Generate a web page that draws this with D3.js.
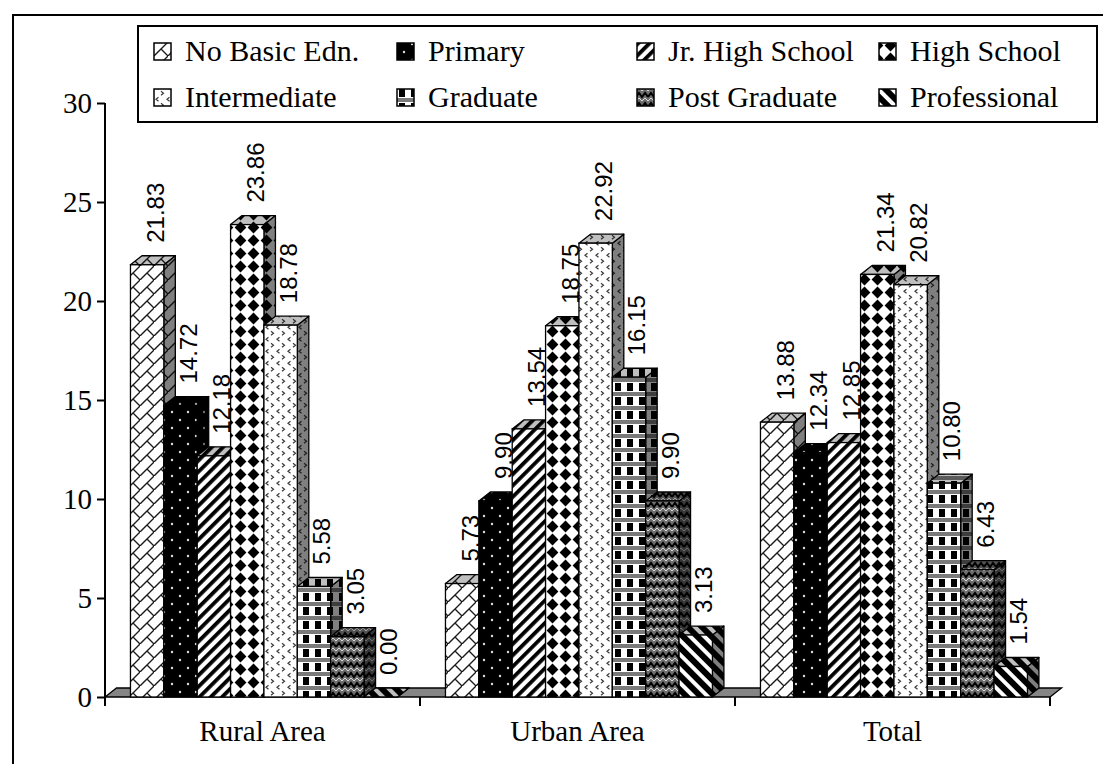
<!DOCTYPE html>
<html>
<head>
<meta charset="utf-8">
<script src="https://cdn.jsdelivr.net/npm/d3@7"></script>
<style>
  html, body { margin: 0; padding: 0; background: #fff; }
  svg { display: block; }
</style>
</head>
<body>
<svg id="chart" width="1103" height="764"></svg>
<script>
// Education level shares (%) by area
const categories = ["Rural Area", "Urban Area", "Total"];
const seriesNames = ["No Basic Edn.", "Primary", "Jr. High School", "High School",
                     "Intermediate", "Graduate", "Post Graduate", "Professional"];
const noBasicEdn   = [21.83,  5.73, 13.88];
const primary      = [14.72,  9.90, 12.34];
const jrHighSchool = [12.18, 13.54, 12.85];
const highSchool   = [23.86, 18.75, 21.34];
const intermediate = [18.78, 22.92, 20.82];
const graduate     = [ 5.58, 16.15, 10.80];
const postGraduate = [ 3.05,  9.90,  6.43];
const professional = [ 0.00,  3.13,  1.54];
const yTickValues  = [0, 5, 10, 15, 20, 25, 30];

const seriesValues = [noBasicEdn, primary, jrHighSchool, highSchool,
                      intermediate, graduate, postGraduate, professional];

const svg = d3.select("#chart");
const defs = svg.append("defs");

// ---- hatch patterns, one per series ----
const patternMakers = [
  // diagonal brick
  p => {
    p.attr("width", 14).attr("height", 14);
    p.append("rect").attr("width", 14).attr("height", 14).attr("fill", "#fff");
    p.append("path").attr("d", "M-1,15 L15,-1 M7,7 L15,15 M-1,-1 L0,0")
      .attr("stroke", "#1a1a1a").attr("stroke-width", 1.4).attr("fill", "none");
  },
  // black with white dots
  p => {
    p.attr("width", 16).attr("height", 16);
    p.append("rect").attr("width", 16).attr("height", 16).attr("fill", "#000");
    p.append("circle").attr("cx", 4).attr("cy", 4).attr("r", 1.2).attr("fill", "#ddd");
    p.append("circle").attr("cx", 12).attr("cy", 12).attr("r", 1.2).attr("fill", "#ddd");
  },
  // wide upward diagonal
  p => {
    p.attr("width", 8).attr("height", 8).attr("patternTransform", "rotate(45)");
    p.append("rect").attr("width", 8).attr("height", 8).attr("fill", "#fff");
    p.append("rect").attr("width", 3.8).attr("height", 8).attr("fill", "#000");
  },
  // solid diamonds
  p => {
    p.attr("width", 13).attr("height", 13);
    p.append("rect").attr("width", 13).attr("height", 13).attr("fill", "#fff");
    p.append("path").attr("d", "M6.5,0.6 L12.4,6.5 L6.5,12.4 L0.6,6.5 Z").attr("fill", "#000");
  },
  // small chevrons
  p => {
    p.attr("width", 11).attr("height", 12);
    p.append("rect").attr("width", 11).attr("height", 12).attr("fill", "#fff");
    p.append("path").attr("d", "M4.5,1.2 L2,3.2 L4.5,5.2 M7,7.2 L9.5,9.2 L7,11.2")
      .attr("stroke", "#3a3a3a").attr("stroke-width", 1.2).attr("fill", "none");
  },
  // plaid
  p => {
    p.attr("width", 12).attr("height", 14);
    p.append("rect").attr("width", 12).attr("height", 14).attr("fill", "#fff");
    p.append("rect").attr("x", 0).attr("y", 0).attr("width", 12).attr("height", 4).attr("fill", "#7a7a7a");
    p.append("rect").attr("x", 3).attr("y", 5).attr("width", 6).attr("height", 8).attr("fill", "#000");
  },
  // zig-zag weave
  p => {
    p.attr("width", 12).attr("height", 10);
    p.append("rect").attr("width", 12).attr("height", 10).attr("fill", "#6e6e6e");
    p.append("path").attr("d", "M0,7 L3,3 L6,7 L9,3 L12,7")
      .attr("stroke", "#000").attr("stroke-width", 2).attr("fill", "none");
    p.append("path").attr("d", "M0,1 L3,-2 L6,1 L9,-2 L12,1 M0,11 L3,8 L6,11 L9,8 L12,11")
      .attr("stroke", "#d8d8d8").attr("stroke-width", 1).attr("fill", "none");
  },
  // wide downward diagonal
  p => {
    p.attr("width", 10).attr("height", 10).attr("patternTransform", "rotate(-45)");
    p.append("rect").attr("width", 10).attr("height", 10).attr("fill", "#fff");
    p.append("rect").attr("width", 6).attr("height", 10).attr("fill", "#000");
  }
];

patternMakers.forEach((make, i) => {
  const p = defs.append("pattern").attr("id", "pat" + i)
    .attr("patternUnits", "userSpaceOnUse");
  make(p);
});

// ---- scales ----
const x0 = d3.scaleBand().domain(categories).range([105, 1050]).padding(0);
const x1 = d3.scaleBand().domain(seriesNames).range([0, x0.bandwidth()])
  .paddingInner(0).paddingOuter(0.72).align(0.53);
const y = d3.scaleLinear().domain([0, 30]).range([697, 103]);

const DX = 11.5, DY = 9;   // oblique depth of the 3-D bars and floor

// outer frame
svg.append("path").attr("d", "M13,770 V15 H1110")
  .attr("fill", "none").attr("stroke", "#000").attr("stroke-width", 2);

// floor
const [fx0, fx1] = x0.range();
const fy = y(0);
svg.append("path")
  .attr("d", `M${fx0},${fy} L${fx1},${fy} L${fx1 + DX},${fy - DY} L${fx0 + DX},${fy - DY} Z`)
  .attr("fill", "#858585").attr("stroke", "#000").attr("stroke-width", 1.3);

// bars
const barsG = svg.append("g");
categories.forEach((cat, ci) => {
  seriesNames.forEach((name, si) => {
    const v = seriesValues[si][ci];
    const bx = x0(cat) + x1(name);
    const bw = x1.bandwidth();
    const yt = y(v), yb = y(0);
    const fill = `url(#pat${si})`;
    const g = barsG.append("g");
    const side = `M${bx + bw},${yt} L${bx + bw + DX},${yt - DY} L${bx + bw + DX},${yb - DY} L${bx + bw},${yb} Z`;
    const top = `M${bx},${yt} L${bx + bw},${yt} L${bx + bw + DX},${yt - DY} L${bx + DX},${yt - DY} Z`;
    g.append("path").attr("d", side).attr("fill", fill);
    g.append("path").attr("d", side).attr("fill", "#000").attr("fill-opacity", 0.5)
      .attr("stroke", "#000").attr("stroke-width", 1.3).attr("stroke-linejoin", "round");
    g.append("path").attr("d", top).attr("fill", fill);
    g.append("path").attr("d", top).attr("fill", "#000").attr("fill-opacity", 0.25)
      .attr("stroke", "#000").attr("stroke-width", 1.3).attr("stroke-linejoin", "round");
    g.append("rect").attr("x", bx).attr("y", yt).attr("width", bw).attr("height", yb - yt)
      .attr("fill", fill).attr("stroke", "#000").attr("stroke-width", 1.3);
  });
});

// value labels (rotated)
categories.forEach((cat, ci) => {
  seriesNames.forEach((name, si) => {
    const v = seriesValues[si][ci];
    const cx = x0(cat) + x1(name) + x1.bandwidth() / 2 + 8;
    const ty = y(v) - 22;
    svg.append("text")
      .attr("transform", `translate(${cx},${ty}) rotate(-90)`)
      .attr("dy", "0.35em")
      .attr("font-family", "'Liberation Sans', Arial, sans-serif")
      .attr("font-size", 24)
      .attr("fill", "#000")
      .text(v.toFixed(2));
  });
});

// value axis
const yAxis = d3.axisLeft(y).tickValues(yTickValues).tickSize(8).tickPadding(5);
const yAxisG = svg.append("g").attr("transform", `translate(${fx0},0)`).call(yAxis);
yAxisG.select(".domain").attr("d", `M0,${y(30)} V${y(0) + 9}`).attr("stroke-width", 2);
yAxisG.selectAll(".tick line").attr("stroke-width", 2);
yAxisG.selectAll(".tick text")
  .attr("font-family", "'Liberation Serif', 'Times New Roman', serif")
  .attr("font-size", 29).attr("fill", "#000");

// category axis
const xAxis = d3.axisBottom(x0).tickSize(0).tickPadding(0);
const xAxisG = svg.append("g").attr("transform", `translate(0,${fy})`).call(xAxis);
xAxisG.select(".domain").remove();
xAxisG.selectAll(".tick text")
  .attr("y", 44).attr("dy", 0)
  .attr("font-family", "'Liberation Serif', 'Times New Roman', serif")
  .attr("font-size", 29).attr("fill", "#000");
// category dividers
xAxisG.selectAll(".divider")
  .data(categories.map(c => x0(c) + x0.bandwidth()))
  .join("line").attr("class", "divider")
  .attr("x1", d => d).attr("x2", d => d).attr("y1", 0).attr("y2", 9)
  .attr("stroke", "#000").attr("stroke-width", 2);

// legend
const legend = svg.append("g");
legend.append("rect").attr("x", 138).attr("y", 26).attr("width", 959).attr("height", 96)
  .attr("fill", "#fff").attr("stroke", "#000").attr("stroke-width", 2);
const legendTextX = [185, 428, 668, 910];
const legendBaseY = [61, 107];
seriesNames.forEach((name, i) => {
  const tx = legendTextX[i % 4], by = legendBaseY[Math.floor(i / 4)];
  legend.append("rect").attr("x", tx - 31).attr("y", by - 18).attr("width", 17).attr("height", 17)
    .attr("fill", `url(#pat${i})`).attr("stroke", "#000").attr("stroke-width", 1.5);
  legend.append("text").attr("x", tx).attr("y", by)
    .attr("font-family", "'Liberation Serif', 'Times New Roman', serif")
    .attr("font-size", 30).attr("fill", "#000").text(name);
});
</script>
</body>
</html>
